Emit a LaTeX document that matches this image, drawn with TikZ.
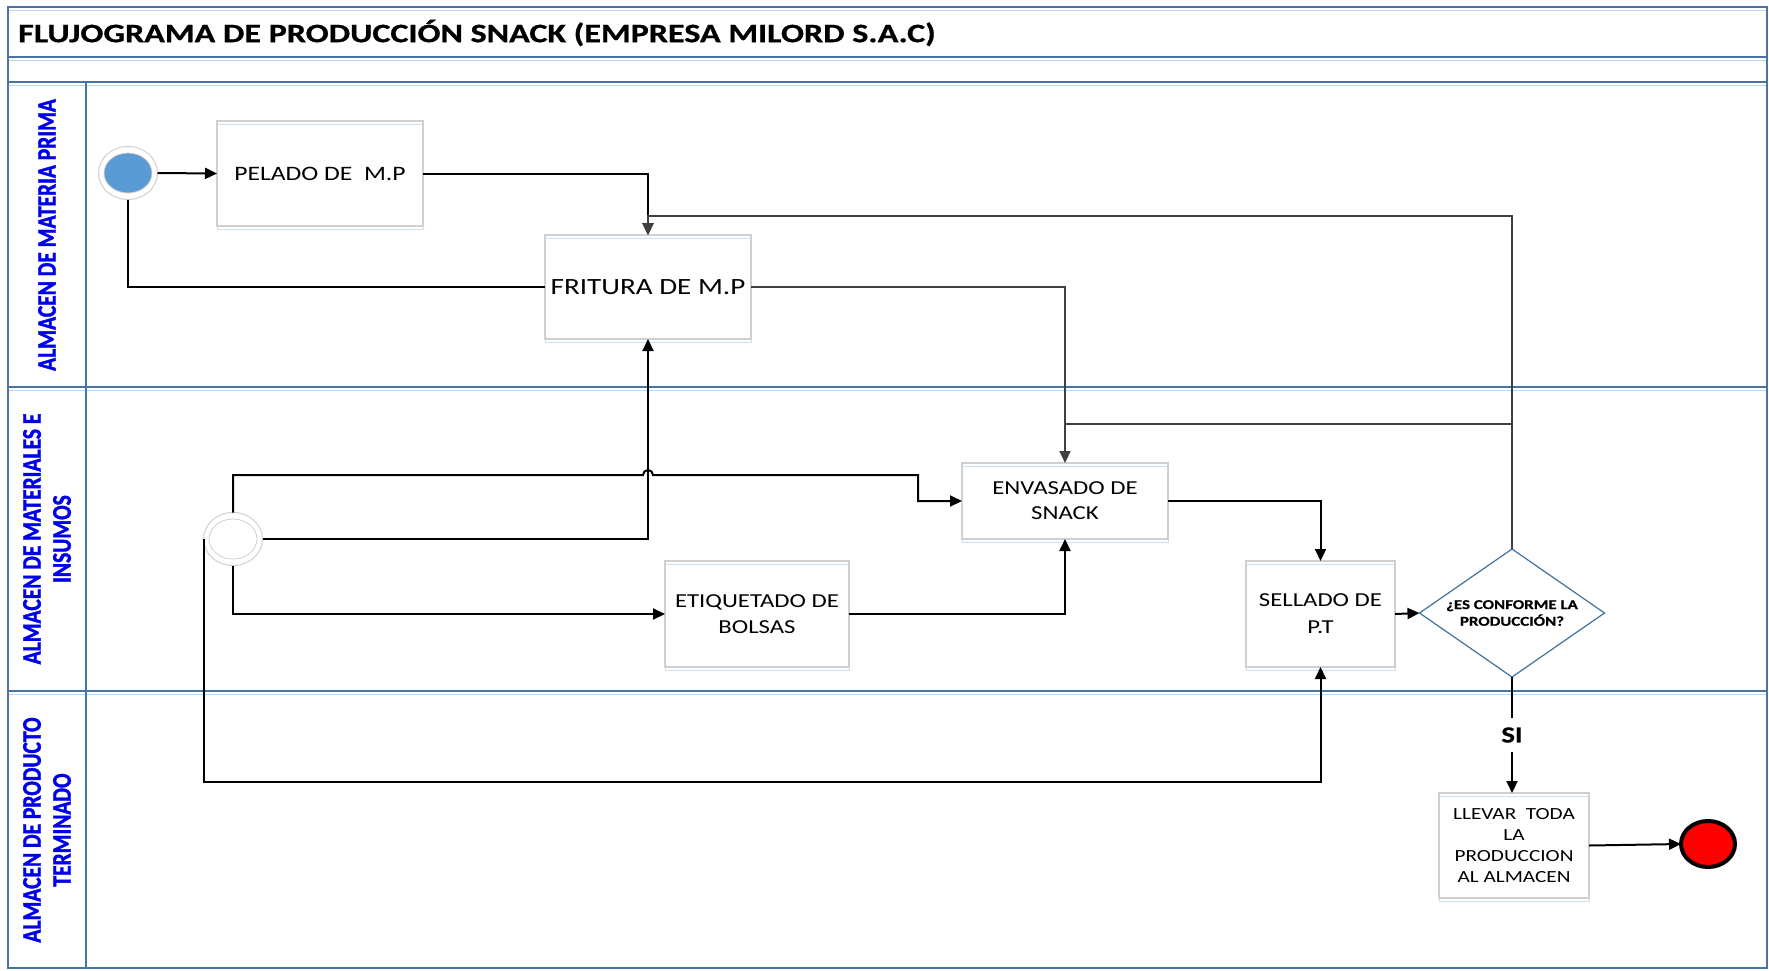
\documentclass[tikz,border=0pt]{standalone}
\usepackage{fontspec}
\setmainfont{Carlito}
% horizontally widened face for running text, narrowed face for the rotated lane titles
\newfontfamily\hfont{Carlito}[FakeStretch=1.25, BoldFeatures={FakeBold=0.6}]
\newfontfamily\tfont{Carlito}[FakeStretch=1.28, BoldFeatures={FakeBold=0.8}]
\newfontfamily\vfont{Carlito}[FakeStretch=0.8, BoldFeatures={FakeBold=1.4}]
\usetikzlibrary{arrows.meta,shapes.geometric,calc}

\definecolor{lanedark}{RGB}{74,116,164}
\definecolor{lanelight}{RGB}{189,215,238}
\definecolor{boxgray}{RGB}{208,208,208}
\definecolor{boxblue}{RGB}{204,224,244}
\definecolor{startblue}{RGB}{91,155,213}
\definecolor{diaborder}{RGB}{65,113,156}
\definecolor{linegray}{RGB}{64,64,64}
\definecolor{laneblue}{RGB}{0,0,235}

\begin{document}
\begin{tikzpicture}[x=1pt,y=-1pt,
  flow/.style={line width=2pt, draw=black},
  flowgray/.style={line width=2pt, draw=linegray},
  arr/.style={-{Triangle[length=12pt,width=11pt]}},
  task/.style={rectangle, outer sep=0pt, inner sep=2pt, align=center,
    draw=boxgray, line width=1.2pt,
    preaction={fill=white},
    preaction={draw=boxblue, line width=1pt, transform canvas={yshift=-3pt}},
    font=\hfont\fontsize{19.8}{25}\selectfont},
  lanetitle/.style={rotate=90, align=center, text=laneblue,
    font=\vfont\bfseries\fontsize{26.9}{30}\selectfont},
  event/.style={ellipse, outer sep=0pt, minimum width=59pt, minimum height=53pt,
    draw=boxgray, line width=1pt, fill=white},
]
\useasboundingbox (0,0) rectangle (1769,970);

% ---- swimlane frame ----
\foreach \yy in {7,57,82,387,691} {
  \draw[lanelight, line width=1.6pt] (8,\yy+3.5) -- (1767,\yy+3.5);
  \draw[lanedark, line width=2pt] (8,\yy) -- (1767,\yy);
}
\draw[lanedark, line width=2pt] (8,7) rectangle (1767,968);
\draw[lanedark, line width=2pt] (86,82) -- (86,968);

\node (title) [anchor=west, inner sep=0pt, font=\tfont\bfseries\fontsize{26.6}{30}\selectfont]
  at (18,33) {FLUJOGRAMA DE PRODUCCIÓN SNACK (EMPRESA MILORD S.A.C)};

\node (laneA) [lanetitle] at (47,235) {ALMACEN DE MATERIA PRIMA};
\node (laneB) [lanetitle] at (47,539) {ALMACEN DE MATERIALES E\\INSUMOS};
\node (laneC) [lanetitle] at (47,830) {ALMACEN DE PRODUCTO\\TERMINADO};

% ---- events ----
\node (start) [event, path picture={
    \draw[fill=startblue, draw=boxgray, line width=0.8pt]
      (path picture bounding box.center) ellipse [x radius=24, y radius=20];}]
  at (128,173) {};
\node (c2) [event, path picture={
    \draw[fill=white, draw=boxgray, line width=0.8pt]
      (path picture bounding box.center) ellipse [x radius=24, y radius=20];}]
  at (233,539) {};
\node (end) [ellipse, outer sep=0pt, minimum width=54pt, minimum height=46pt,
  draw=black, line width=4pt, fill=red] at (1708,844) {};

% ---- tasks ----
\node (pel) [task, minimum width=206pt, minimum height=105pt,
  font=\hfont\fontsize{20.5}{25}\selectfont] at (320,173.5) {PELADO DE\ \ M.P};
\node (fri) [task, minimum width=206pt, minimum height=104pt,
  font=\hfont\fontsize{23.3}{28}\selectfont] at (648,287) {FRITURA DE M.P};
\node (env) [task, minimum width=206pt, minimum height=76pt] at (1065,501)
  {ENVASADO DE\\SNACK};
\node (eti) [task, minimum width=184pt, minimum height=106pt,
  font=\hfont\fontsize{19.8}{26}\selectfont] at (757,614) {ETIQUETADO DE\\BOLSAS};
\node (sel) [task, minimum width=149pt, minimum height=106pt,
  font=\hfont\fontsize{19.8}{27}\selectfont] at (1320.5,614) {SELLADO DE\\P.T};
\node (dia) [diamond, aspect=1.45, inner sep=0pt, outer sep=0pt,
  minimum width=185pt, minimum height=128pt, draw=diaborder, line width=1.2pt,
  fill=white, align=center, font=\hfont\bfseries\fontsize{13.5}{16.7}\selectfont]
  at (1512,613) {¿ES CONFORME LA\\PRODUCCIÓN?};
\node (lle) [task, minimum width=150pt, minimum height=105pt,
  font=\hfont\fontsize{17}{21.3}\selectfont] at (1514,845.5)
  {LLEVAR\ \ TODA\\LA\\PRODUCCION\\AL ALMACEN};
\node (si) [inner sep=0pt, minimum height=33pt,
  font=\hfont\bfseries\fontsize{23}{24}\selectfont] at (1512,735) {SI};

% ---- bend points ----
\coordinate (noTop) at (1512,216);
\coordinate (noMid) at (1512,424);
\coordinate (hop) at (643,475);
\coordinate (bendA) at (918,475);

% ---- connectors ----
\draw[flow, arr] (start.east) -- (pel.west);
\draw[flow] (start.south) |- (fri.west);
\draw[flow, arr] (pel.east) -| (fri.north);
\draw[flowgray, arr] (dia.north) -- (noTop) -| (fri.north);
\draw[flowgray] (noMid) -- (noMid -| env.north);
\draw[flowgray, arr] (fri.east) -| (env.north);
\draw[flow, arr] (c2.north) |- (hop) arc[start angle=180, end angle=360, radius=5]
  -- (bendA) |- (env.west);
\draw[flow, arr] (c2.east) -| (fri.south);
\draw[flow, arr] (c2.south) |- (eti.west);
\draw[flow, arr] (c2.west) -- ++(0,243) -| (sel.south);
\draw[flow, arr] (eti.east) -| (env.south);
\draw[flow, arr] (env.east) -| (sel.north);
\draw[flow, arr] (sel.east) -- (dia.west);
\draw[flow] (dia.south) -- (si.north);
\draw[flow, arr] (si.south) -- (si.south |- lle.north);
\draw[flow, arr] (lle.east) -- (end.west);
\end{tikzpicture}
\end{document}
